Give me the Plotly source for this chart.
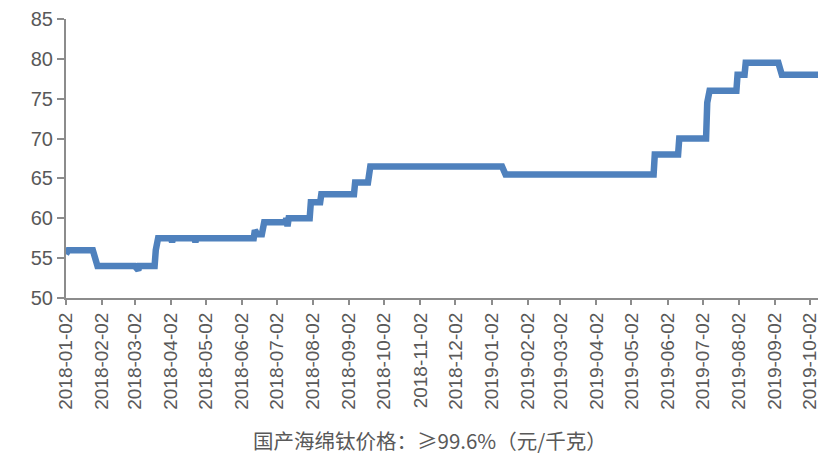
import plotly.graph_objects as go

# Domestic titanium sponge price (>=99.6%), CNY/kg — dates where the quoted price is observed
dates = [
    "2018-01-02", "2018-01-04", "2018-01-25", "2018-01-29", "2018-03-02", "2018-03-05",
    "2018-03-06", "2018-03-19", "2018-03-20", "2018-03-22", "2018-04-02", "2018-04-03",
    "2018-04-04", "2018-04-22", "2018-04-23", "2018-04-24", "2018-06-12", "2018-06-13",
    "2018-06-15", "2018-06-19", "2018-06-21", "2018-07-09", "2018-07-10", "2018-07-11",
    "2018-07-12", "2018-07-30", "2018-07-31", "2018-08-08", "2018-08-09", "2018-09-06",
    "2018-09-07", "2018-09-18", "2018-09-20", "2019-01-11", "2019-01-14", "2019-05-21",
    "2019-05-22", "2019-06-11", "2019-06-12", "2019-07-05", "2019-07-06", "2019-07-08",
    "2019-07-31", "2019-08-01", "2019-08-07", "2019-08-08", "2019-09-05", "2019-09-08",
    "2019-10-09",
]
prices = [
    55.5, 56, 56, 54, 54, 53.5,
    54, 54, 56, 57.5, 57.5, 57,
    57.5, 57.5, 57, 57.5, 57.5, 58.5,
    58, 58, 59.5, 59.5, 60, 59,
    60, 60, 62, 62, 63, 63,
    64.5, 64.5, 66.5, 66.5, 65.5, 65.5,
    68, 68, 70, 70, 74.5, 76,
    76, 78, 78, 79.5, 79.5, 78,
    78,
]

tick_dates = [
    "2018-01-02", "2018-02-02", "2018-03-02", "2018-04-02", "2018-05-02", "2018-06-02",
    "2018-07-02", "2018-08-02", "2018-09-02", "2018-10-02", "2018-11-02", "2018-12-02",
    "2019-01-02", "2019-02-02", "2019-03-02", "2019-04-02", "2019-05-02", "2019-06-02",
    "2019-07-02", "2019-08-02", "2019-09-02", "2019-10-02",
]
y_ticks = [50, 55, 60, 65, 70, 75, 80, 85]
series_name = "国产海绵钛价格：≥99.6%（元/千克）"

AXIS_GRAY = "#8c8c8c"
TEXT_GRAY = "#595959"

fig = go.Figure()
fig.add_trace(go.Scatter(
    x=dates, y=prices, mode="lines", name=series_name,
    line=dict(color="#4f81bd", width=6.5),
    showlegend=False,
))

fig.update_layout(
    width=824, height=455,
    margin=dict(l=66, r=4, t=19, b=157),
    paper_bgcolor="white", plot_bgcolor="white",
    font=dict(family="Liberation Sans, Arial, sans-serif", color=TEXT_GRAY),
    xaxis=dict(
        type="date",
        range=["2018-01-02", "2019-10-09"],
        tickvals=tick_dates,
        ticktext=tick_dates,
        tickangle=-90,
        tickfont=dict(size=19, color=TEXT_GRAY),
        ticks="outside", ticklen=5, tickwidth=1.5, tickcolor=AXIS_GRAY,
        showline=True, linecolor=AXIS_GRAY, linewidth=2,
        showgrid=False, zeroline=False,
    ),
    yaxis=dict(
        range=[50, 85],
        tickvals=y_ticks,
        tickfont=dict(size=20, color=TEXT_GRAY),
        ticks="outside", ticklen=7, tickwidth=1.5, tickcolor=AXIS_GRAY,
        showline=True, linecolor=AXIS_GRAY, linewidth=2,
        showgrid=False, zeroline=False,
    ),
    annotations=[dict(
        text=series_name, xref="paper", yref="paper",
        x=0.484, y=0, yshift=-142, xanchor="center", yanchor="middle",
        showarrow=False,
        font=dict(family="Noto Sans CJK SC, sans-serif", size=20.5, color=TEXT_GRAY),
    )],
)

fig.write_html("out.html")
